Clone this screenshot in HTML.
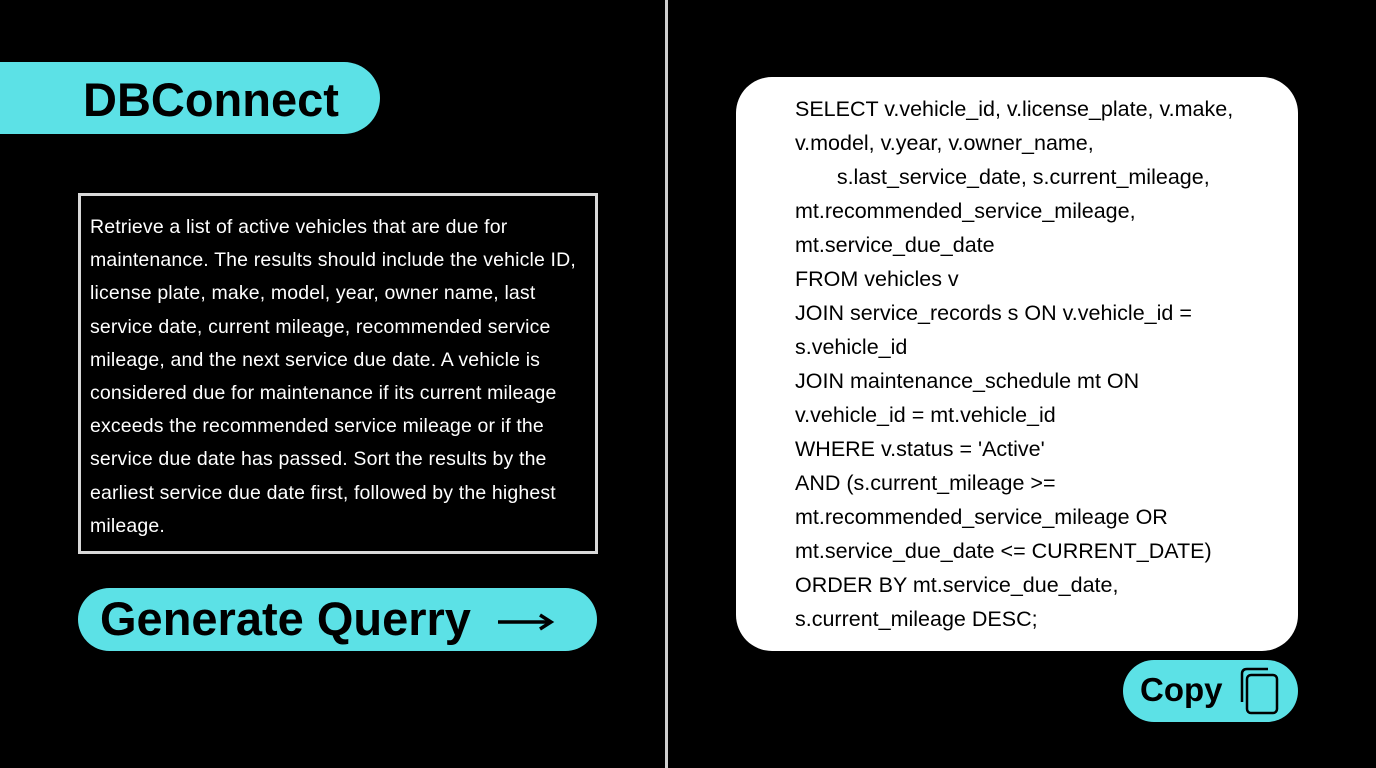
<!DOCTYPE html>
<html><head><style>
body{margin:0;width:1376px;height:768px;background:#000;position:relative;overflow:hidden;font-family:"Liberation Sans",sans-serif}
.a{position:absolute}
.pill{background:#5ce1e6}
.desc{left:90px;top:211px;color:#fff;font-size:19.5px;line-height:33.2px;white-space:nowrap;letter-spacing:0.15px}
.sql{left:795px;top:92px;color:#000;font-size:21.5px;line-height:34px;white-space:pre}
</style></head><body>
<div class="a" style="left:665px;top:0;width:3px;height:768px;background:#cfcfcf"></div>
<div class="a pill" style="left:0;top:62px;width:380px;height:72px;border-radius:0 36px 36px 0"></div>
<div class="a" style="left:83px;top:72px;font-size:47px;font-weight:bold;color:#000">DBConnect</div>
<div class="a" style="left:78px;top:193px;width:514px;height:355px;border:3px solid #d9d9d9"></div>
<div class="a desc">Retrieve a list of active vehicles that are due for<br>maintenance. The results should include the vehicle ID,<br>license plate, make, model, year, owner name, last<br>service date, current mileage, recommended service<br>mileage, and the next service due date. A vehicle is<br>considered due for maintenance if its current mileage<br>exceeds the recommended service mileage or if the<br>service due date has passed. Sort the results by the<br>earliest service due date first, followed by the highest<br>mileage.</div>
<div class="a pill" style="left:78px;top:588px;width:519px;height:63px;border-radius:32px"></div>
<div class="a" style="left:100px;top:591px;font-size:47px;font-weight:bold;color:#000">Generate Querry</div>
<svg class="a" style="left:496px;top:612px" width="62" height="20"><line x1="2" y1="10" x2="52" y2="10" stroke="#000" stroke-width="3.5"/><path d="M44 3 L55 10 L44 17" fill="none" stroke="#000" stroke-width="3.5"/></svg>
<div class="a" style="left:736px;top:77px;width:562px;height:574px;background:#fff;border-radius:36px"></div>
<div class="a sql">SELECT v.vehicle_id, v.license_plate, v.make,
v.model, v.year, v.owner_name,
       s.last_service_date, s.current_mileage,
mt.recommended_service_mileage,
mt.service_due_date
FROM vehicles v
JOIN service_records s ON v.vehicle_id =
s.vehicle_id
JOIN maintenance_schedule mt ON
v.vehicle_id = mt.vehicle_id
WHERE v.status = 'Active'
AND (s.current_mileage &gt;=
mt.recommended_service_mileage OR
mt.service_due_date &lt;= CURRENT_DATE)
ORDER BY mt.service_due_date,
s.current_mileage DESC;</div>
<div class="a pill" style="left:1123px;top:660px;width:175px;height:62px;border-radius:31px"></div>
<div class="a" style="left:1140px;top:671px;font-size:33px;font-weight:bold;color:#000">Copy</div>
<svg class="a" style="left:1238px;top:666px" width="44" height="52"><path d="M4 36 V8 Q4 3 9 3 H30" fill="none" stroke="#000" stroke-width="2.5"/><rect x="9" y="9" width="30" height="38" rx="4" fill="none" stroke="#000" stroke-width="2.5"/></svg>
</body></html>
